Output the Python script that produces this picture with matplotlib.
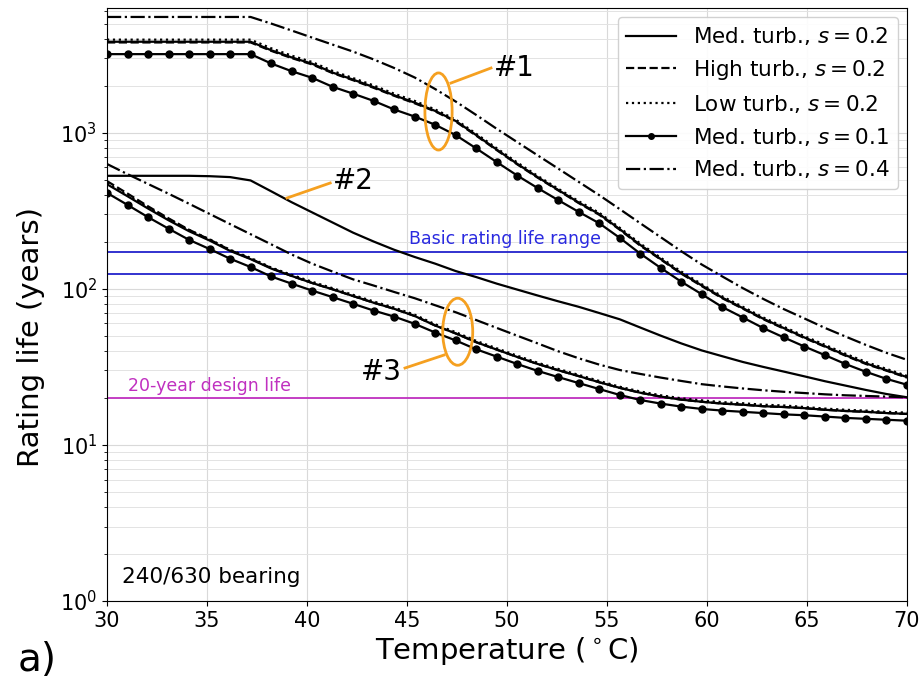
import numpy as np
import matplotlib
matplotlib.use("Agg")
import matplotlib.pyplot as plt
from matplotlib.patches import Ellipse
from matplotlib.lines import Line2D

plt.rcParams['font.family'] = ['DejaVu Sans']
plt.rcParams['mathtext.fontset'] = 'dejavusans'

# Temperature grid (40 evaluation points between 30 and 70 degC)
temps = np.linspace(30, 70, 40)

# ---- Group #1 ----
g1_med_s02 = [3830, 3830, 3830, 3830, 3830, 3830, 3830, 3830, 3380, 3040,
              2770, 2430, 2190, 1960, 1740, 1560, 1380, 1190, 966, 780,
              632, 519, 430, 357, 301, 241, 191, 155, 126, 105,
              87.7, 75.2, 64.3, 56.0, 48.8, 42.9, 37.6, 33.3, 30.1, 27.2]
g1_high_s02 = [3790, 3790, 3790, 3790, 3790, 3790, 3790, 3790, 3350, 3010,
               2740, 2410, 2170, 1940, 1725, 1545, 1370, 1180, 958, 774,
               627, 515, 427, 354, 298, 239, 189, 154, 125, 104,
               87.0, 74.6, 63.8, 55.6, 48.4, 42.6, 37.3, 33.0, 29.9, 27.0]
g1_low_s02 = [3950, 3950, 3950, 3950, 3950, 3950, 3950, 3950, 3480, 3120,
              2840, 2490, 2240, 2010, 1780, 1600, 1410, 1215, 985, 796,
              645, 529, 438, 364, 307, 246, 195, 158, 129, 107,
              89.4, 76.7, 65.5, 57.1, 49.8, 43.8, 38.4, 34.0, 30.7, 27.7]
g1_med_s01 = [3190, 3190, 3190, 3190, 3190, 3190, 3190, 3190, 2780, 2480,
              2250, 1970, 1780, 1600, 1410, 1270, 1125, 966, 794, 649,
              532, 442, 370, 311, 263, 212, 168, 136, 111, 92.3,
              76.4, 65.5, 56.0, 48.8, 42.7, 37.6, 33.0, 29.4, 26.5, 24.3]
g1_med_s04 = [5520, 5520, 5520, 5520, 5520, 5520, 5520, 5520, 5010, 4520,
              4070, 3670, 3310, 2950, 2600, 2260, 1905, 1585, 1300, 1060,
              871, 716, 589, 484, 398, 324, 263, 214, 174, 143,
              120, 101, 86.1, 74.1, 64.6, 56.2, 49.5, 43.7, 38.9, 35.1]

# ---- Group #2 ----
g2_med_s02 = [530, 530, 530, 530, 530, 527, 520, 495, 422, 359,
              309, 266, 229, 201, 178, 160, 145, 130, 119, 108,
              98.9, 90.6, 83.2, 76.7, 70.0, 63.8, 56.5, 50.1, 44.7, 40.3,
              37.0, 34.0, 31.6, 29.5, 27.5, 25.6, 24.0, 22.5, 21.2, 20.2]

# ---- Group #3 ----
g3_med_s02 = [468, 392, 327, 275, 234, 204, 175, 155, 135, 121,
              109, 99.3, 89.9, 81.5, 74.5, 67.0, 58.2, 51.8, 45.5, 40.8,
              36.6, 33.0, 30.1, 27.6, 25.2, 23.2, 21.6, 20.4, 19.5, 18.9,
              18.4, 18.1, 17.7, 17.5, 17.2, 16.8, 16.5, 16.3, 16.0, 15.8]
g3_high_s02 = [490, 408, 338, 283, 239, 207, 177, 156, 136, 121,
               109, 99.3, 89.9, 81.5, 74.5, 67.0, 58.2, 51.8, 45.5, 40.8,
               36.6, 33.0, 30.1, 27.6, 25.2, 23.2, 21.6, 20.4, 19.5, 18.9,
               18.4, 18.1, 17.7, 17.5, 17.2, 16.8, 16.5, 16.3, 16.0, 15.8]
g3_low_s02 = [476, 399, 333, 280, 238, 208, 178, 158, 137, 123,
              111, 101, 91.5, 83.0, 75.9, 68.3, 59.3, 52.8, 46.4, 41.6,
              37.3, 33.6, 30.7, 28.1, 25.7, 23.6, 22.0, 20.8, 19.9, 19.3,
              18.8, 18.5, 18.1, 17.9, 17.5, 17.1, 16.8, 16.6, 16.3, 16.1]
g3_med_s01 = [412, 345, 288, 243, 206, 180, 156, 138, 120, 108,
              97.5, 88.5, 80.2, 72.6, 66.4, 59.7, 52.5, 46.7, 41.0, 36.8,
              33.0, 29.8, 27.2, 24.9, 22.8, 20.9, 19.4, 18.4, 17.6, 17.0,
              16.6, 16.3, 16.0, 15.7, 15.5, 15.2, 14.9, 14.7, 14.5, 14.3]
g3_med_s04 = [631, 543, 470, 407, 351, 302, 260, 224, 193, 166,
              145, 129, 115, 105, 95.5, 87.1, 78.5, 70.8, 63.1, 56.2,
              50.1, 44.7, 39.8, 35.9, 32.7, 30.2, 28.5, 27.0, 25.7, 24.5,
              23.7, 23.0, 22.4, 21.9, 21.5, 21.1, 20.8, 20.6, 20.4, 20.2]

# Reference levels
basic_life_range = [125, 173]
design_life = 20

legend_labels = ["Med. turb., $s = 0.2$", "High turb., $s = 0.2$",
                 "Low turb., $s = 0.2$", "Med. turb., $s = 0.1$",
                 "Med. turb., $s = 0.4$"]

fig = plt.figure(figsize=(9.24, 6.84), dpi=100)
ax = fig.add_axes([0.1158, 0.1213, 0.8658, 0.8670])

ax.set_yscale('log')
ax.set_xlim(30, 70)
ax.set_ylim(1, 6300)

ax.grid(True, which='major', color='#d9d9d9', lw=0.8)
ax.grid(True, which='minor', axis='y', color='#e3e3e3', lw=0.7)
ax.set_axisbelow(True)

lw = 1.6
ms = 5
# reference lines
for v in basic_life_range:
    ax.axhline(v, color='#2222cc', lw=1.3, zorder=1.5)
ax.axhline(design_life, color='#c030c0', lw=1.3, zorder=1.5)

# group 1
ax.plot(temps, g1_med_s02, '-', color='k', lw=lw, label=legend_labels[0])
ax.plot(temps, g1_high_s02, '--', color='k', lw=lw, label=legend_labels[1])
ax.plot(temps, g1_low_s02, ':', color='k', lw=lw, label=legend_labels[2])
ax.plot(temps, g1_med_s01, '-', marker='o', ms=ms, color='k', lw=lw, label=legend_labels[3])
ax.plot(temps, g1_med_s04, '-.', color='k', lw=lw, label=legend_labels[4])
# group 2
ax.plot(temps, g2_med_s02, '-', color='k', lw=lw)
# group 3
ax.plot(temps, g3_med_s02, '-', color='k', lw=lw)
ax.plot(temps, g3_high_s02, '--', color='k', lw=lw)
ax.plot(temps, g3_low_s02, ':', color='k', lw=lw)
ax.plot(temps, g3_med_s01, '-', marker='o', ms=ms, color='k', lw=lw)
ax.plot(temps, g3_med_s04, '-.', color='k', lw=lw)

handles = [Line2D([], [], color='k', lw=lw, ls='-'),
           Line2D([], [], color='k', lw=lw, ls='--'),
           Line2D([], [], color='k', lw=lw, ls=':'),
           Line2D([], [], color='k', lw=lw, ls='-', marker='o', ms=4),
           Line2D([], [], color='k', lw=lw, ls='-.')]
leg = ax.legend(handles, legend_labels, loc='upper right', fontsize=15.5,
                handlelength=2.3, borderaxespad=0.4, labelspacing=0.5,
                framealpha=0.9)

ax.set_xticks([30, 35, 40, 45, 50, 55, 60, 65, 70])
ax.tick_params(axis='both', which='major', labelsize=15)
ax.set_xlabel('Temperature ($^\\circ$C)', fontsize=21, labelpad=3)
ax.set_ylabel('Rating life (years)', fontsize=21)
ax.yaxis.set_label_coords(-0.077, 0.445)

# text annotations
ax.text(0.4975, 0.595, 'Basic rating life range', transform=ax.transAxes,
        color='#2a2ae0', fontsize=12.5, ha='center', va='bottom')
ax.text(0.026, 0.347, '20-year design life', transform=ax.transAxes,
        color='#c030c0', fontsize=12.5, ha='left', va='bottom')
ax.text(0.019, 0.04, '240/630 bearing', transform=ax.transAxes,
        fontsize=15.5, ha='left', va='center')
fig.text(0.019, 0.035, 'a)', fontsize=28, ha='left', va='center')

orange = '#f5a020'
ax.add_patch(Ellipse((0.4144, 0.8255), 0.034, 0.130, transform=ax.transAxes,
                     fill=False, ec=orange, lw=2, zorder=5))
ax.add_patch(Ellipse((0.4384, 0.4541), 0.0375, 0.113, transform=ax.transAxes,
                     fill=False, ec=orange, lw=2, zorder=5))
ax.plot([0.430, 0.480], [0.8735, 0.8988], color=orange, lw=2, transform=ax.transAxes, zorder=5)
ax.plot([0.225, 0.279], [0.6796, 0.7049], color=orange, lw=2, transform=ax.transAxes, zorder=5)
ax.plot([0.4213, 0.3725], [0.4148, 0.3929], color=orange, lw=2, transform=ax.transAxes, zorder=5)
ax.text(0.484, 0.899, '#1', transform=ax.transAxes, fontsize=20, ha='left', va='center')
ax.text(0.282, 0.708, '#2', transform=ax.transAxes, fontsize=20, ha='left', va='center')
ax.text(0.368, 0.386, '#3', transform=ax.transAxes, fontsize=20, ha='right', va='center')

fig.savefig('out.png', dpi=100)
